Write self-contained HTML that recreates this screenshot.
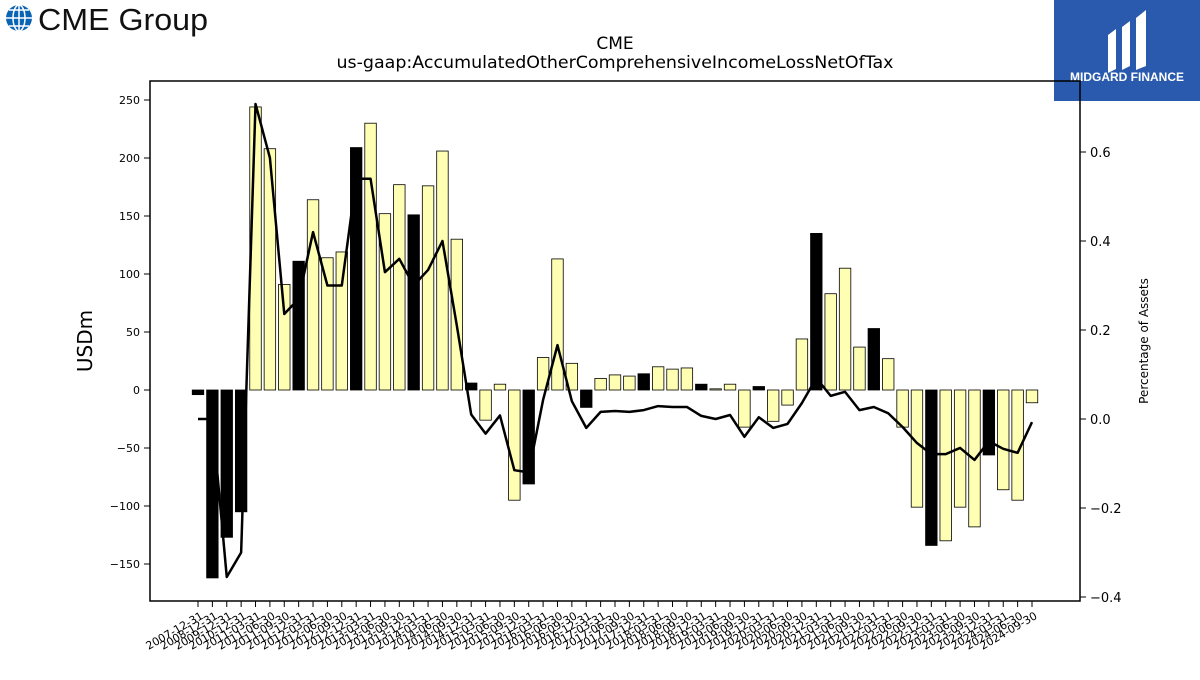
<!DOCTYPE html>
<html><head><meta charset="utf-8"><style>
body{margin:0;background:#fff;font-family:"Liberation Sans","DejaVu Sans",sans-serif}
</style></head><body>
<svg width="1200" height="675" viewBox="0 0 1200 675" xmlns="http://www.w3.org/2000/svg" font-family="DejaVu Sans, Liberation Sans, sans-serif">
<g>
<circle cx="19" cy="18" r="13" fill="#0a64b4"/>
<path d="M6 18h26M19 5v26M9 10h20M9 26h20" stroke="#fff" stroke-width="1.5" fill="none"/>
<ellipse cx="19" cy="18" rx="6" ry="13" stroke="#fff" stroke-width="1.5" fill="none"/>
<text x="38" y="30" font-size="31" font-family="Liberation Sans, sans-serif" fill="#111" textLength="170" lengthAdjust="spacingAndGlyphs">CME Group</text>
</g>
<g>
<rect x="1054" y="0" width="146" height="101" fill="#2a5aad"/>
<path d="M1108 35l8-6v40l-8 4zM1122 27l8-6v45l-8 4zM1136 18l10-8v56l-10 4z" fill="#fff"/>
<text x="1127" y="81" text-anchor="middle" font-size="12" font-weight="bold" fill="#fff" font-family="Liberation Sans, sans-serif">MIDGARD FINANCE</text>
</g>
<text x="615" y="49" text-anchor="middle" font-size="17">CME</text>
<text x="615" y="68" text-anchor="middle" font-size="17" textLength="557" lengthAdjust="spacingAndGlyphs">us-gaap:AccumulatedOtherComprehensiveIncomeLossNetOfTax</text>
<g id="plot"></g>
<rect x="150" y="81" width="930" height="520" fill="none" stroke="#000" stroke-width="1.5"/>
<text transform="translate(92,341) rotate(-90)" text-anchor="middle" font-size="20">USDm</text>
<text transform="translate(1148,341) rotate(-90)" text-anchor="middle" font-size="12">Percentage of Assets</text>
</svg>
<script>
const categories=["2007-12-31","2008-12-31","2009-12-31","2010-12-31"];
for(let y=2011;y<=2024;y++){for(const q of ["03-31","06-30","09-30","12-31"]){if(y===2024&&q==="12-31")break;categories.push(y+"-"+q);}}
const values=[-4,-162,-127,-105,244,208,91,111,164,114,119,209,230,152,177,151,176,206,130,6,-26,5,-95,-81,28,113,23,-15,10,13,12,14,20,18,19,5,1,5,-32,3,-27,-13,44,135,83,105,37,53,27,-32,-101,-134,-130,-101,-118,-56,-86,-95,-11];
const pct=[0.0,0.0,-0.355,-0.30,0.708,0.587,0.236,0.27,0.42,0.30,0.30,0.54,0.54,0.33,0.36,0.30,0.335,0.40,0.21,0.01,-0.033,0.008,-0.115,-0.12,0.043,0.166,0.04,-0.02,0.016,0.018,0.016,0.02,0.029,0.027,0.027,0.007,0.0,0.009,-0.04,0.004,-0.02,-0.011,0.036,0.092,0.052,0.061,0.02,0.027,0.013,-0.018,-0.054,-0.079,-0.079,-0.065,-0.092,-0.05,-0.067,-0.076,-0.007];
const leftTicks=[-150,-100,-50,0,50,100,150,200,250];
const rightTicks=[-0.4,-0.2,0.0,0.2,0.4,0.6];
const NS="http://www.w3.org/2000/svg";
const g=document.getElementById('plot');
const x=i=>198+i*(1032-198)/(categories.length-1);
const yL=v=>390-v*(290/250);
const yR=v=>419-v*445;
function mk(t,a){const e=document.createElementNS(NS,t);for(const k in a)e.setAttribute(k,a[k]);g.appendChild(e);return e;}
const bw=11.5;
values.forEach((v,i)=>{
 const q4=categories[i].endsWith("12-31");
 const r=mk('rect',{x:x(i)-bw/2,y:Math.min(yL(v),yL(0)),width:bw,height:Math.abs(yL(v)-yL(0)),fill:q4?"#000":"#ffffb3",stroke:"#000","stroke-width":0.8});
 
 
 const tk=mk('line',{x1:x(i),x2:x(i),y1:601,y2:607,stroke:"#000"});
 
 
 const t=mk('text',{x:x(i)+6,y:618,"text-anchor":"end","font-size":11,transform:`rotate(-30 ${x(i)+6} 618)`});
 t.textContent=categories[i];
 
 
});
let d="";pct.forEach((p,i)=>{d+=(i?"L":"M")+x(i)+" "+yR(p);});
const ln=mk('path',{d:d,fill:"none",stroke:"#000","stroke-width":2.5,"stroke-linejoin":"round"});


leftTicks.forEach(v=>{
 const tk=mk('line',{x1:144,x2:150,y1:yL(v),y2:yL(v),stroke:"#000"});
 
 
 const t=mk('text',{x:140,y:yL(v)+4,"text-anchor":"end","font-size":11});
 t.textContent=v<0?"\u2212"+(-v):String(v);
 
 
});
rightTicks.forEach(v=>{
 const tk=mk('line',{x1:1080,x2:1086,y1:yR(v),y2:yR(v),stroke:"#000"});
 
 
 const t=mk('text',{x:1090,y:yR(v)+5,"font-size":13});
 t.textContent=(v<0?"\u2212":"")+Math.abs(v).toFixed(1);
 
 
});
</script>
</body></html>
